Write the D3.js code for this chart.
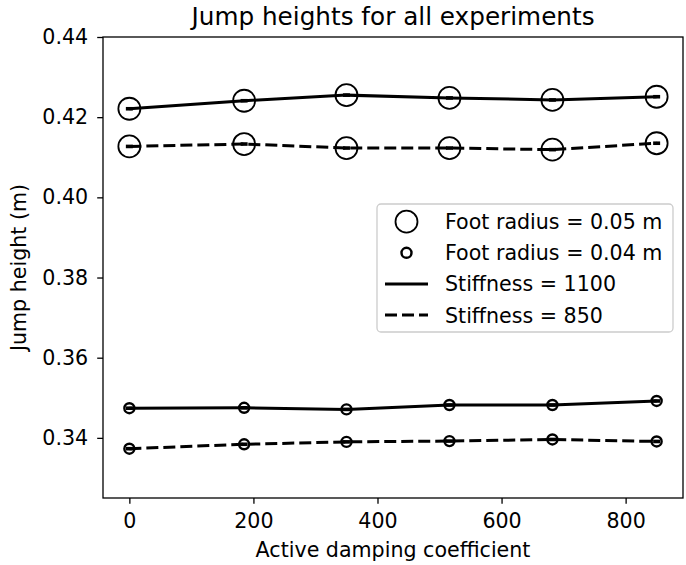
<!DOCTYPE html>
<html>
<head>
<meta charset="utf-8">
<script src="https://cdn.jsdelivr.net/npm/d3@7"></script>
<style>
  body { margin: 0; background: #fff; }
  svg { font-family: "DejaVu Sans", sans-serif; }
</style>
</head>
<body>
<svg id="chart" width="686" height="565"></svg>
<script>
// data
var damping = [0, 185, 350, 516, 682, 850];
var r05_k1100 = [0.4221, 0.4241, 0.4255, 0.4248, 0.4243, 0.4251];
var r05_k850  = [0.4127, 0.4133, 0.4123, 0.4123, 0.4119, 0.4135];
var r04_k1100 = [0.3474, 0.3475, 0.3471, 0.3482, 0.3482, 0.3492];
var r04_k850  = [0.3373, 0.3384, 0.3390, 0.3392, 0.3396, 0.3391];
var xTicks = [0, 200, 400, 600, 800];
var yTicks = [0.34, 0.36, 0.38, 0.40, 0.42, 0.44];

var plotLeft = 103, plotRight = 683, plotTop = 37, plotBottom = 498;
var fontSize = 20.6;

var svg = d3.select("#chart");

var x = d3.scaleLinear().domain([-42.5, 892.5]).range([plotLeft, plotRight]);
var y = d3.scaleLinear().domain([0.325, 0.44]).range([plotBottom, plotTop]);

var series = [
    {vals: r05_k1100, r: 11, dash: null, sw: 1.8},
    {vals: r05_k850,  r: 11, dash: "12,5", sw: 1.8},
    {vals: r04_k1100, r: 5,  dash: null, sw: 2.4},
    {vals: r04_k850,  r: 5,  dash: "12,5", sw: 2.4}
];

var line = d3.line()
    .x(function(d){ return x(d[0]); })
    .y(function(d){ return y(d[1]); });

series.forEach(function(s){
    var pts = damping.map(function(v, i){ return [v, s.vals[i]]; });
    svg.append("path")
        .datum(pts)
        .attr("d", line)
        .attr("fill", "none")
        .attr("stroke", "#000")
        .attr("stroke-width", 3)
        .attr("stroke-dasharray", s.dash);
    //small error bar caps
    svg.selectAll(null).data(pts).enter().append("rect")
        .attr("x", function(d){ return x(d[0]) - 3.5; })
        .attr("y", function(d){ return y(d[1]) - 1.8; })
        .attr("width", 7)
        .attr("height", 3.6)
        .attr("fill", "#000");
    svg.selectAll(null).data(pts).enter().append("circle")
        .attr("cx", function(d){ return x(d[0]); })
        .attr("cy", function(d){ return y(d[1]); })
        .attr("r", s.r)
        .attr("fill", "none")
        .attr("stroke", "#000")
        .attr("stroke-width", s.sw);
});

// axes
var xAxis = svg.append("g")
    .attr("transform", "translate(0," + plotBottom + ")")
    .call(d3.axisBottom(x).tickValues(xTicks).tickSize(5.8).tickPadding(6).tickFormat(d3.format("d")));
var yAxis = svg.append("g")
    .attr("transform", "translate(" + plotLeft + ",0)")
    .call(d3.axisLeft(y).tickValues(yTicks).tickSize(5.8).tickPadding(9).tickFormat(d3.format(".2f")));

[xAxis, yAxis].forEach(function(a){
    a.select(".domain").remove();
    a.selectAll("line").attr("stroke", "#000").attr("stroke-width", 1.3);
    a.selectAll("text").attr("font-size", fontSize).attr("fill", "#000")
        .attr("font-family", "DejaVu Sans");
});
xAxis.selectAll("text").attr("dy", null).attr("y", 30);

svg.append("rect")
    .attr("x", plotLeft).attr("y", plotTop)
    .attr("width", plotRight - plotLeft).attr("height", plotBottom - plotTop)
    .attr("fill", "none").attr("stroke", "#000").attr("stroke-width", 1.3);

// labels
svg.append("text")
    .attr("x", (plotLeft + plotRight) / 2).attr("y", 25)
    .attr("text-anchor", "middle")
    .attr("font-size", 24.7)
    .text("Jump heights for all experiments");
svg.append("text")
    .attr("x", (plotLeft + plotRight) / 2).attr("y", 557)
    .attr("text-anchor", "middle")
    .attr("font-size", fontSize)
    .text("Active damping coefficient");
svg.append("text")
    .attr("transform", "translate(26," + (plotTop + plotBottom) / 2 + ") rotate(-90)")
    .attr("text-anchor", "middle")
    .attr("font-size", fontSize)
    .text("Jump height (m)");

// legend
var legendItems = [
    {label: "Foot radius = 0.05 m", type: "circle", r: 11, sw: 1.8},
    {label: "Foot radius = 0.04 m", type: "circle", r: 5, sw: 2.4},
    {label: "Stiffness = 1100", type: "line", dash: null},
    {label: "Stiffness = 850", type: "line", dash: "12,5"}
];
var lg = svg.append("g");
lg.append("rect")
    .attr("x", 377).attr("y", 204)
    .attr("width", 296).attr("height", 128)
    .attr("rx", 4)
    .attr("fill", "#fff").attr("fill-opacity", 0.8)
    .attr("stroke", "#ccc").attr("stroke-width", 1.3);
legendItems.forEach(function(it, i){
    var cy = 221.7 + i * 31.1;
    if (it.type === "circle") {
        lg.append("circle")
            .attr("cx", 406.5).attr("cy", cy).attr("r", it.r)
            .attr("fill", "none").attr("stroke", "#000").attr("stroke-width", it.sw);
    } else {
        lg.append("line")
            .attr("x1", 385).attr("x2", 428).attr("y1", cy).attr("y2", cy)
            .attr("stroke", "#000").attr("stroke-width", 3)
            .attr("stroke-dasharray", it.dash);
    }
    lg.append("text")
        .attr("x", 445).attr("y", cy + 7.5)
        .attr("font-size", fontSize)
        .text(it.label);
});
</script>
</body>
</html>
